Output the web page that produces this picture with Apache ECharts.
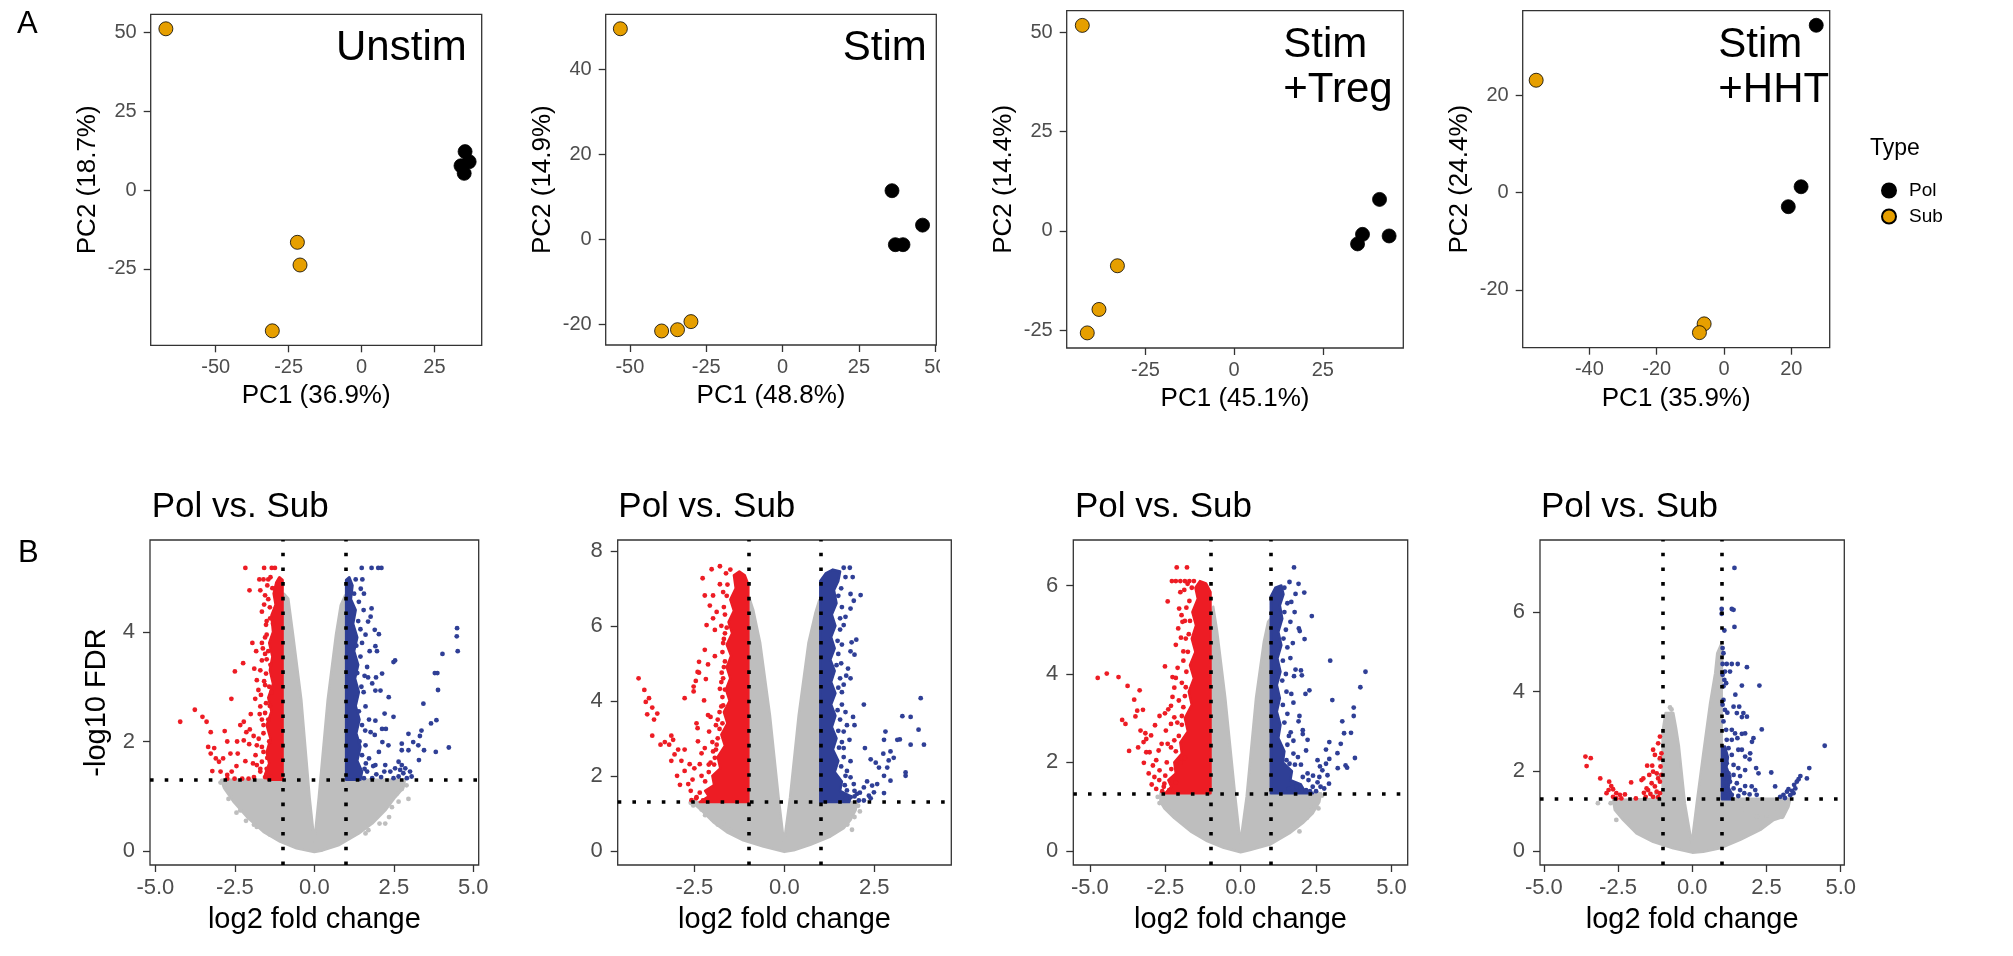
<!DOCTYPE html>
<html><head><meta charset="utf-8">
<script src="https://cdn.jsdelivr.net/npm/echarts@6/dist/echarts.min.js"></script>
<style>html,body{margin:0;padding:0;background:#fff}#c{width:2013px;height:956px}</style>
</head><body><div id="c"></div>
<script>
// ---------------- DATA ----------------
// PCA panels (PC1, PC2)
const pcaUnstimPol = [[35.5,12.2],[36.9,9.0],[34.1,7.7],[35.2,5.3]];
const pcaUnstimSub = [[-67.1,51.2],[-22.0,-16.6],[-21.1,-23.8],[-30.6,-44.7]];
const pcaStimPol = [[35.8,11.4],[45.8,3.3],[36.9,-1.3],[39.4,-1.3]];
const pcaStimSub = [[-53.1,49.5],[-39.6,-21.6],[-34.4,-21.3],[-30.0,-19.4]];
const pcaTregPol = [[41.0,7.9],[43.7,-1.3],[36.2,-0.9],[34.8,-3.3]];
const pcaTregSub = [[-42.8,51.7],[-32.9,-8.8],[-38.1,-19.8],[-41.4,-25.7]];
const pcaHHTPol = [[27.4,34.4],[22.9,1.2],[19.1,-2.9]];
const pcaHHTSub = [[-55.8,23.1],[-5.9,-27.0],[-7.3,-28.8]];

const pcaTitles = ['Unstim', 'Stim', 'Stim\n+Treg', 'Stim\n+HHT'];
const pc1Labels = ['PC1 (36.9%)', 'PC1 (48.8%)', 'PC1 (45.1%)', 'PC1 (35.9%)'];
const pc2Labels = ['PC2 (18.7%)', 'PC2 (14.9%)', 'PC2 (14.4%)', 'PC2 (24.4%)'];
const groupNames = ['Pol', 'Sub'];

// axis ranges and ticks
const xRanges = [[-72.3,41.2],[-57.9,50.3],[-47.2,47.7],[-59.8,31.4],[-5.17,5.17],[-4.63,4.64],[-5.55,5.54],[-5.13,5.12]];
const yRanges = [[-49.3,55.8],[-24.9,52.9],[-29.5,55.4],[-31.9,37.4],[-0.256,5.68],[-0.38,8.29],[-0.32,7.03],[-0.35,7.8]];
const xTicks = [[-50,-25,0,25],[-50,-25,0,25,50],[-25,0,25],[-40,-20,0,20],[-5,-2.5,0,2.5,5],[-2.5,0,2.5],[-5,-2.5,0,2.5,5],[-5,-2.5,0,2.5,5]];
const yTicks = [[-25,0,25,50],[-20,0,20,40],[-25,0,25,50],[-20,0,20],[0,2,4],[0,2,4,6,8],[0,2,4,6],[0,2,4,6]];

// Volcano thresholds
const fcCut = [-1, 1];
const fdrCut = 1.3;

// Volcano 1 (Unstim)
const v1GrayArea = [[0,-0.02],[-0.56,0.05],[-1.08,0.17],[-1.60,0.35],[-2.12,0.62],[-2.53,0.89],[-2.84,1.15],[-2.93,1.30],[-1.0,1.30],[-1.0,4.25],[-0.96,4.70],[-0.82,4.61],[-0.67,3.95],[-0.41,2.76],[-0.15,0.98],[0,0.17],[0.14,0.98],[0.42,2.76],[0.68,3.95],[0.83,4.49],[0.97,4.67],[1.0,4.55],[1.0,1.30],[2.85,1.30],[2.80,1.15],[2.54,0.98],[2.23,0.74],[1.82,0.50],[1.40,0.32],[0.78,0.11],[0.26,0.01]];
const v1GrayPts = [[2.96,0.95],[2.75,1.13],[2.23,0.50],[1.61,0.32],[2.44,0.80],[-2.82,1.21],[-2.33,0.74],[-1.81,0.44],[2.6,1.05],[-2.6,1.05],[-2.95,1.25],[-2.7,0.95],[-2.45,0.7],[-2.15,0.55],[2.9,1.2],[2.65,0.9],[2.35,0.62],[2.05,0.5],[1.7,0.38],[-1.4,0.3],[-1.9,0.48]];
const v1RedCore = [[-1.0,1.3],[-1.0,4.95],[-1.1,5.0],[-1.2,4.9],[-1.28,4.7],[-1.22,4.5],[-1.35,4.3],[-1.3,4.0],[-1.42,3.8],[-1.32,3.55],[-1.4,3.3],[-1.3,3.05],[-1.45,2.8],[-1.35,2.55],[-1.5,2.3],[-1.38,2.05],[-1.5,1.8],[-1.42,1.6],[-1.55,1.4],[-1.45,1.3]];
const v1BlueCore = [[1.0,1.3],[1.0,4.95],[1.1,5.0],[1.2,4.85],[1.15,4.6],[1.3,4.4],[1.22,4.15],[1.35,3.9],[1.25,3.65],[1.38,3.4],[1.28,3.15],[1.4,2.9],[1.3,2.65],[1.42,2.4],[1.32,2.15],[1.45,1.9],[1.35,1.65],[1.5,1.45],[1.45,1.3]];
const v1Red = [[-2.17,5.17],[-1.58,5.17],[-1.34,5.17],[-1.24,5.17],[-1.73,4.96],[-1.60,4.96],[-1.45,4.96],[-2.04,4.76],[-1.70,4.76],[-1.55,4.67],[-1.95,3.80],[-1.65,3.80],[-1.83,3.65],[-2.24,3.43],[-2.50,3.28],[-1.89,3.33],[-1.65,3.48],[-2.61,2.78],[-3.76,2.58],[-4.22,2.36],[-3.52,2.45],[-3.39,2.36],[-1.86,2.78],[-1.70,2.64],[-2.22,2.36],[-2.33,2.30],[-2.14,2.17],[-2.03,2.22],[-2.82,2.19],[-3.26,2.17],[-2.74,2.0],[-2.43,2.0],[-2.22,2.02],[-3.34,1.90],[-3.15,1.88],[-3.26,1.78],[-3.10,1.69],[-2.87,1.69],[-3.00,1.63],[-2.64,1.78],[-2.41,1.78],[-2.17,1.64],[-1.93,1.60],[-3.21,1.46],[-2.95,1.45],[-2.74,1.39],[-2.74,1.32],[-2.51,1.32],[-2.27,1.32],[-2.07,1.32],[-1.81,1.57],[-1.70,1.45],[-1.65,1.63],[-1.60,1.81],[-1.81,1.93],[-1.91,2.10],[-1.60,2.15],[-1.65,2.40],[-1.55,2.52],[-1.76,2.94],[-1.55,3.03],[-1.52,3.24],[-1.81,3.12],[-1.55,3.60],[-1.50,3.95],[-1.52,4.13],[-1.39,4.25],[-1.65,4.37],[-1.45,4.6],[-1.5,4.2],[-1.55,3.9],[-1.5,3.5],[-1.58,3.1],[-1.52,2.7],[-1.6,2.3],[-1.65,1.9],[-1.7,1.5],[-1.55,1.35],[-1.48,4.85],[-1.38,5.0],[-1.9,1.35],[-1.85,1.75],[-1.75,2.05],[-1.72,2.5],[-1.68,2.85],[-1.7,3.3],[-1.62,3.7],[-1.58,4.5],[-2.0,2.5],[-2.05,1.95],[-2.45,1.55],[-2.6,1.45],[-1.32,4.8],[-1.4,4.45],[-1.3,4.15],[-1.45,3.65],[-1.38,3.4],[-1.42,3.0],[-1.4,2.65],[-1.45,2.4],[-1.42,2.0],[-1.48,1.7],[-1.5,1.5],[-1.35,1.35],[-1.35,2.9]];
const v1Blue = [[1.49,5.17],[1.80,5.17],[2.01,5.17],[2.11,5.17],[1.30,4.96],[1.51,4.96],[1.56,4.70],[1.80,4.43],[1.77,4.28],[1.90,4.04],[2.03,3.96],[1.92,3.74],[1.97,3.65],[2.49,3.45],[2.54,3.48],[2.13,3.24],[1.94,3.17],[1.69,3.17],[1.92,2.93],[2.08,2.93],[2.34,2.81],[2.21,2.51],[2.49,2.45],[1.92,2.38],[2.13,2.23],[2.25,2.23],[1.90,2.12],[2.14,1.99],[2.33,1.93],[2.03,1.81],[1.92,1.57],[2.23,1.57],[2.39,1.45],[2.49,1.33],[2.75,1.96],[2.96,2.14],[3.11,1.99],[2.96,1.84],[2.75,1.84],[3.27,1.93],[3.32,2.10],[3.37,2.20],[3.45,1.84],[3.29,1.66],[3.43,2.69],[3.67,2.33],[3.84,2.39],[3.82,1.81],[4.23,1.89],[3.87,3.25],[3.79,3.25],[3.89,2.94],[4.03,3.60],[4.49,4.07],[4.48,3.92],[4.51,3.65],[2.65,1.63],[2.75,1.57],[2.86,1.51],[3.01,1.45],[2.80,1.42],[2.65,1.36],[2.91,1.33],[3.06,1.36],[2.54,1.51],[2.70,1.48],[1.69,4.19],[1.61,3.95],[1.74,3.65],[1.66,3.36],[1.82,3.06],[1.61,2.64],[1.72,2.40],[1.77,2.17],[1.61,1.93],[1.72,1.69],[1.66,1.45],[1.56,1.33],[1.82,1.33],[1.40,4.55],[1.46,4.79],[1.55,4.4],[1.5,3.8],[1.58,3.2],[1.55,2.9],[1.6,2.2],[1.62,1.6],[1.85,1.55],[1.95,1.4],[2.1,1.35],[2.2,1.45],[1.25,4.7],[1.38,4.2],[1.32,3.75],[1.45,3.55],[1.35,3.25],[1.48,3.0],[1.4,2.55],[1.5,2.3],[1.42,2.0],[1.5,1.75],[1.58,1.5],[1.3,2.8],[1.45,4.05]];

// Volcano 2 (Stim)
const v2GrayArea = [[0,-0.03],[-0.58,0.11],[-1.14,0.28],[-1.60,0.50],[-1.98,0.77],[-2.26,1.04],[-2.49,1.24],[-2.53,1.30],[-1.0,1.30],[-1.0,6.50],[-0.95,6.68],[-0.86,6.41],[-0.67,5.54],[-0.40,3.62],[-0.16,1.43],[-0.01,0.21],[0.16,1.43],[0.40,3.62],[0.67,5.54],[0.86,6.33],[0.97,6.68],[1.0,6.33],[1.0,1.30],[2.02,1.30],[1.98,1.08],[1.84,0.82],[1.65,0.60],[1.28,0.38],[0.72,0.16],[0.26,0.01]];
const v2GrayPts = [[1.88,0.56],[-2.53,1.21],[-1.51,0.57],[-1.70,0.74],[2.05,1.2],[-2.3,1.1],[-2.0,0.85],[-2.2,0.95],[-1.85,0.7],[1.95,0.9],[1.75,0.7],[2.1,1.05],[-2.6,1.28]];
const v2RedCore = [[-1.0,1.3],[-1.0,7.1],[-1.1,7.35],[-1.25,7.45],[-1.4,7.35],[-1.35,7.0],[-1.5,6.7],[-1.4,6.4],[-1.55,6.1],[-1.45,5.8],[-1.6,5.5],[-1.48,5.2],[-1.6,4.9],[-1.5,4.6],[-1.62,4.3],[-1.52,4.0],[-1.68,3.7],[-1.58,3.4],[-1.75,3.1],[-1.65,2.8],[-1.85,2.5],[-1.78,2.2],[-2.0,2.0],[-1.95,1.75],[-2.2,1.6],[-2.1,1.45],[-2.35,1.3]];
const v2BlueCore = [[1.0,1.3],[1.0,7.2],[1.15,7.4],[1.35,7.5],[1.55,7.45],[1.5,7.2],[1.38,6.95],[1.45,6.6],[1.32,6.3],[1.42,6.0],[1.3,5.7],[1.4,5.4],[1.28,5.1],[1.4,4.8],[1.3,4.5],[1.42,4.2],[1.3,3.9],[1.42,3.6],[1.32,3.3],[1.45,3.0],[1.35,2.7],[1.5,2.4],[1.4,2.1],[1.6,1.85],[1.55,1.6],[1.85,1.45],[1.8,1.3]];
const v2Red = [[-4.05,4.60],[-3.89,4.29],[-3.76,4.07],[-3.85,3.97],[-3.67,3.82],[-3.53,3.66],[-3.81,3.64],[-3.62,3.50],[-3.67,3.07],[-3.44,2.83],[-3.32,2.90],[-3.14,3.07],[-3.09,2.96],[-3.20,2.83],[-2.95,2.70],[-3.05,2.57],[-2.77,2.70],[-3.14,2.40],[-2.86,2.40],[-2.98,2.00],[-2.90,1.76],[-2.77,2.13],[-2.77,4.07],[-2.52,4.38],[-2.46,4.53],[-2.52,4.25],[-2.41,4.77],[-2.37,5.04],[-2.21,5.36],[-2.16,6.02],[-2.21,6.81],[-2.27,7.27],[-1.98,6.81],[-2.02,7.51],[-1.79,7.59],[-2.07,6.54],[-1.88,6.37],[-1.93,5.89],[-1.98,6.20],[-1.93,5.19],[-2.12,4.97],[-2.18,4.58],[-2.37,4.75],[-2.44,3.40],[-2.41,3.27],[-2.23,4.01],[-2.12,3.62],[-2.05,3.57],[-2.09,3.18],[-2.40,2.92],[-2.21,2.74],[-1.90,3.35],[-1.88,2.83],[-1.93,2.48],[-1.70,3.88],[-1.79,4.32],[-1.74,4.75],[-1.70,5.54],[-1.79,7.11],[-2.63,2.31],[-2.35,2.31],[-2.67,1.78],[-2.44,1.43],[-2.26,1.34],[-1.62,7.4],[-1.7,6.9],[-1.68,6.5],[-1.75,6.0],[-1.65,5.8],[-1.72,5.3],[-1.68,4.9],[-1.75,4.5],[-1.65,4.3],[-1.8,3.7],[-1.72,3.4],[-1.85,3.0],[-1.98,2.65],[-2.1,2.3],[-2.3,2.0],[-2.55,1.9],[-2.6,1.6],[-2.58,1.35],[-2.0,2.9],[-2.3,2.6],[-2.5,2.2],[-1.5,7.5],[-1.58,7.1],[-1.6,6.8],[-1.65,6.3],[-1.6,5.95],[-1.68,5.65],[-1.65,5.05],[-1.7,4.6],[-1.72,4.1],[-1.75,3.85],[-1.8,3.25],[-1.9,2.7],[-2.05,2.35],[-2.2,1.85],[-2.35,1.55],[-2.45,1.4],[-2.1,2.1],[-1.95,2.3],[-1.85,3.5]];
const v2Blue = [[2.12,6.82],[1.93,6.67],[1.84,6.46],[2.00,5.63],[1.87,5.56],[1.84,5.32],[1.95,5.23],[1.77,4.86],[1.72,4.67],[1.84,4.60],[1.65,4.43],[2.21,3.90],[1.91,3.57],[1.95,3.35],[1.74,3.35],[1.65,3.18],[1.81,2.96],[2.24,2.74],[3.28,3.59],[3.51,3.57],[3.79,4.07],[3.73,3.23],[3.51,2.83],[3.88,2.83],[3.21,2.97],[3.14,2.96],[2.81,3.18],[2.77,2.96],[2.75,2.59],[2.95,2.65],[3.04,2.48],[2.90,2.41],[2.40,2.44],[2.54,2.35],[2.63,2.22],[2.86,2.22],[2.77,2.00],[2.95,1.87],[3.37,2.09],[3.37,2.00],[2.58,1.78],[2.44,1.74],[2.30,1.85],[2.21,1.69],[2.49,1.56],[2.77,1.54],[2.35,1.47],[1.84,1.96],[1.93,1.78],[1.74,1.61],[2.02,1.52],[1.84,1.43],[2.07,1.34],[2.21,1.34],[1.74,2.13],[1.84,2.39],[1.65,2.74],[1.70,3.70],[1.60,4.23],[1.70,6.24],[1.65,6.02],[1.84,6.85],[1.58,7.0],[1.6,6.5],[1.55,5.9],[1.6,5.5],[1.58,5.0],[1.55,4.6],[1.6,3.9],[1.55,3.5],[1.6,2.9],[1.65,2.5],[1.7,2.0],[1.95,1.6],[2.4,1.4],[1.9,7.3],[1.82,7.55],[1.65,7.55],[1.7,7.3],[1.5,6.8],[1.55,6.2],[1.48,5.6],[1.5,5.25],[1.45,4.95],[1.5,4.35],[1.48,3.75],[1.5,3.2],[1.52,2.75],[1.58,2.25],[1.68,1.75],[1.95,1.45],[2.1,1.55],[1.72,1.4]];

// Volcano 3 (Stim + Treg)
const v3GrayArea = [[0,-0.03],[-0.56,0.07],[-1.11,0.22],[-1.66,0.44],[-2.20,0.74],[-2.53,0.96],[-2.66,1.11],[-2.66,1.30],[-1.0,1.30],[-1.0,5.33],[-0.91,5.52],[-0.78,4.96],[-0.51,3.46],[-0.18,1.23],[-0.01,0.18],[0.20,1.23],[0.51,3.46],[0.77,4.73],[0.91,5.18],[1.0,5.26],[1.0,1.30],[2.66,1.30],[2.61,1.11],[2.39,0.85],[2.06,0.63],[1.62,0.40],[0.97,0.14],[0.31,0.02]];
const v3GrayPts = [[2.58,0.96],[-2.69,1.08],[-1.98,0.67],[1.95,0.44],[2.3,1.0],[-2.4,0.95],[-2.75,1.22],[-2.25,0.85],[-1.8,0.6],[2.5,1.2],[2.2,0.75],[1.8,0.55],[2.7,1.25]];
const v3RedCore = [[-1.0,1.3],[-1.0,5.85],[-1.15,6.05],[-1.35,6.1],[-1.5,5.95],[-1.42,5.7],[-1.6,5.4],[-1.48,5.1],[-1.62,4.8],[-1.5,4.5],[-1.68,4.2],[-1.55,3.9],[-1.72,3.6],[-1.62,3.3],[-1.85,3.0],[-1.75,2.7],[-2.0,2.45],[-1.95,2.2],[-2.2,2.0],[-2.15,1.75],[-2.4,1.6],[-2.3,1.45],[-2.5,1.3]];
const v3BlueCore = [[1.0,1.3],[1.0,5.75],[1.15,5.95],[1.35,6.0],[1.42,5.8],[1.3,5.55],[1.38,5.25],[1.25,4.95],[1.35,4.65],[1.22,4.35],[1.32,4.05],[1.2,3.75],[1.3,3.45],[1.2,3.15],[1.32,2.85],[1.25,2.55],[1.45,2.25],[1.4,2.0],[1.7,1.8],[1.65,1.6],[2.0,1.5],[2.1,1.38],[2.4,1.3]];
const v3Red = [[-2.12,6.41],[-1.78,6.41],[-2.28,6.1],[-2.15,6.1],[-2.0,6.1],[-1.85,6.1],[-1.7,6.1],[-1.55,6.1],[-2.42,5.64],[-2.00,5.85],[-2.04,5.48],[-1.96,5.33],[-2.07,5.03],[-1.98,4.82],[-2.15,4.66],[-1.90,4.51],[-2.51,4.17],[-2.26,3.93],[-2.15,3.91],[-4.74,3.91],[-4.44,4.01],[-4.05,3.93],[-3.75,3.73],[-3.35,3.63],[-3.53,3.42],[-3.43,3.17],[-3.24,3.19],[-3.49,3.04],[-3.93,2.96],[-3.82,2.87],[-2.84,2.84],[-3.32,2.72],[-3.16,2.66],[-3.13,2.53],[-2.97,2.61],[-3.22,2.46],[-3.40,2.34],[-3.70,2.26],[-3.13,2.23],[-3.02,2.23],[-3.21,1.99],[-2.69,3.05],[-2.51,3.11],[-2.40,3.20],[-2.48,2.72],[-2.31,2.87],[-2.31,3.28],[-2.26,3.48],[-2.20,3.69],[-2.62,2.42],[-2.72,2.27],[-2.80,2.05],[-2.91,1.93],[-2.86,1.67],[-2.69,1.82],[-2.53,1.52],[-2.37,1.37],[-2.42,2.42],[-2.31,2.34],[-2.20,3.02],[-2.09,4.14],[-1.93,5.18],[-1.76,6.04],[-1.87,5.9],[-1.8,5.5],[-1.85,5.2],[-1.82,4.8],[-1.9,4.3],[-1.95,3.8],[-2.05,3.4],[-2.1,2.9],[-2.2,2.5],[-2.45,2.0],[-2.7,1.6],[-2.8,1.4],[-2.95,1.5],[-3.05,1.75],[-2.6,1.35],[-2.15,1.55],[-1.85,2.1],[-1.62,5.95],[-1.7,5.65],[-1.68,5.2],[-1.72,4.9],[-1.75,4.5],[-1.8,4.05],[-1.82,3.7],[-1.9,3.25],[-1.95,2.85],[-2.05,2.6],[-2.15,2.25],[-2.3,1.85],[-2.5,1.7],[-2.55,1.45],[-2.0,2.0],[-1.95,3.05],[-1.85,3.5]];
const v3Blue = [[1.77,6.41],[1.62,6.08],[1.92,6.04],[2.11,5.84],[1.82,5.81],[1.68,5.63],[1.79,5.40],[2.36,5.31],[1.65,5.18],[1.93,5.03],[1.96,4.97],[2.12,4.79],[1.73,4.70],[1.65,4.36],[2.97,4.30],[4.14,4.05],[3.97,3.70],[1.82,4.10],[2.00,4.08],[2.03,3.97],[1.77,3.95],[2.28,3.63],[2.15,3.55],[3.04,3.41],[1.68,3.55],[1.75,3.35],[3.75,3.24],[3.75,3.05],[3.37,2.93],[1.95,3.05],[1.92,2.93],[2.06,2.73],[2.22,2.51],[2.06,2.64],[1.66,2.68],[1.75,2.49],[2.94,2.46],[2.83,2.29],[3.21,2.21],[3.66,2.67],[3.43,2.66],[3.32,2.42],[3.79,2.10],[3.48,1.93],[3.53,1.88],[3.22,1.87],[2.94,2.08],[2.83,1.97],[2.63,1.91],[2.55,2.05],[2.71,1.82],[2.88,1.71],[2.61,1.67],[2.93,1.52],[2.77,1.41],[2.39,1.45],[2.06,1.67],[2.22,1.75],[2.17,1.37],[1.73,1.52],[1.62,1.97],[1.90,2.12],[2.17,2.27],[1.55,5.6],[1.5,5.0],[1.55,4.6],[1.5,4.0],[1.52,3.6],[1.55,3.1],[1.6,2.6],[1.75,2.2],[2.0,1.95],[2.4,1.7],[2.55,1.55],[2.5,1.35],[1.85,1.45],[2.0,1.35],[1.6,1.4],[1.45,5.95],[1.45,5.4],[1.42,4.8],[1.4,4.3],[1.38,3.85],[1.4,3.3],[1.45,2.9],[1.55,2.4],[1.52,2.05],[1.8,1.95],[2.25,1.6],[2.65,1.45],[2.3,1.35]];

// Volcano 4 (Stim + HHT)
const v4GrayArea = [[0,-0.04],[-0.64,0.07],[-1.32,0.23],[-1.88,0.44],[-2.33,0.78],[-2.61,1.03],[-2.67,1.28],[-1.0,1.31],[-1.0,3.0],[-0.9,3.46],[-0.64,3.46],[-0.55,3.1],[-0.45,2.62],[-0.25,1.20],[-0.02,0.19],[0.15,1.20],[0.37,2.45],[0.60,3.71],[0.77,4.46],[0.84,4.96],[0.96,5.17],[1.02,5.05],[0.99,4.46],[0.99,1.31],[3.30,1.31],[3.24,1.11],[3.07,0.86],[2.74,0.78],[2.29,0.53],[1.61,0.28],[0.93,0.07],[0.37,-0.02]];
const v4GrayPts = [[-3.18,1.20],[-2.56,0.78],[3.02,0.86],[2.74,1.03],[1.67,1.03],[2.17,0.86],[-1.2,1.45],[-1.15,1.9],[-1.1,2.3],[-2.75,1.2],[-2.4,0.9],[-2.1,0.75],[2.9,1.0],[3.1,1.2],[2.5,0.9],[-0.75,3.6],[-0.7,3.55]];
const v4BlueCore = [[1.0,1.3],[1.0,2.6],[1.1,2.62],[1.2,2.35],[1.15,2.1],[1.28,1.85],[1.22,1.6],[1.35,1.4],[1.3,1.3]];
const v4Red = [[-3.60,2.37],[-3.42,2.33],[-3.56,2.13],[-3.10,1.82],[-2.80,1.74],[-2.73,1.63],[-2.67,1.55],[-2.82,1.53],[-2.89,1.45],[-2.56,1.45],[-2.44,1.41],[-2.27,1.42],[-2.39,1.32],[-2.56,1.32],[-2.67,1.36],[-2.06,1.72],[-1.90,1.32],[-1.71,1.78],[-1.65,1.82],[-1.57,1.36],[-1.54,1.57],[-1.45,1.91],[-1.35,2.14],[-1.52,2.14],[-1.32,2.54],[-1.15,2.70],[-1.09,2.87],[-1.26,2.41],[-1.09,2.33],[-1.04,2.45],[-1.32,1.99],[-1.20,1.95],[-1.15,1.82],[-1.09,1.74],[-1.37,1.70],[-1.26,1.62],[-1.49,1.53],[-1.20,1.49],[-1.09,1.45],[-1.32,1.36],[-1.15,1.35],[-1.41,1.43],[-1.63,1.46],[-1.07,2.12],[-1.04,1.91]];
const v4Blue = [[1.42,7.10],[0.99,6.07],[1.33,6.07],[1.39,6.05],[0.99,5.95],[1.08,5.53],[1.42,5.62],[1.02,5.09],[1.02,4.69],[1.16,4.69],[1.33,4.69],[1.53,4.69],[1.84,4.61],[1.10,4.50],[1.27,4.50],[1.02,4.42],[1.08,4.29],[1.05,4.13],[1.14,4.21],[1.67,4.15],[2.26,4.15],[1.45,3.92],[1.05,3.79],[1.02,3.67],[1.10,3.54],[1.18,3.47],[1.39,3.62],[1.58,3.62],[1.72,3.46],[1.67,3.36],[1.84,3.37],[1.50,3.46],[2.34,3.05],[1.05,3.25],[1.14,3.04],[1.33,3.04],[1.44,2.95],[1.67,2.94],[1.78,2.95],[1.52,2.83],[1.33,2.79],[1.16,2.79],[2.06,2.83],[2.01,2.74],[1.05,2.58],[1.22,2.58],[1.55,2.54],[1.67,2.54],[1.95,2.45],[1.78,2.37],[1.93,2.30],[1.33,2.41],[1.05,2.35],[1.16,2.20],[1.39,2.16],[1.55,2.08],[1.78,2.03],[2.15,2.08],[2.23,1.95],[2.66,1.97],[1.05,2.03],[1.22,1.95],[1.39,1.91],[1.61,1.88],[1.05,1.82],[1.27,1.74],[1.50,1.70],[1.05,1.62],[1.16,1.53],[1.39,1.57],[1.61,1.53],[1.78,1.63],[2.00,1.62],[2.12,1.53],[1.93,1.42],[1.75,1.45],[1.55,1.38],[1.33,1.41],[1.10,1.36],[2.17,1.41],[2.79,1.62],[2.96,1.36],[3.07,1.41],[3.19,1.49],[3.24,1.55],[3.36,1.51],[3.43,1.66],[3.52,1.74],[3.58,1.80],[3.64,1.88],[3.47,1.57],[3.41,1.45],[3.86,1.82],[3.94,2.08],[4.46,2.64],[1.05,4.96],[3.3,1.4],[3.12,1.33]];

// ---------------- CHART ----------------
const FONT = '"Liberation Sans", Arial, Helvetica, sans-serif';
const RED = '#ED1C24', BLUE = '#2F3F96', GRAY = '#BEBEBE', ORANGE = '#E69F00';
const boxes = [[150.7,14.3,331,331],[605.7,14.3,330.6,330.7],[1066.7,10.7,336.6,337.3],[1522.7,10.7,307,337],
               [150,540,328.7,325],[617.7,540,333.6,325],[1073.3,540,334.4,325],[1540,540,304.3,325]];

const grids = boxes.map(b => ({left:b[0], top:b[1], width:b[2], height:b[3], show:true, borderColor:'#333', borderWidth:1.3, backgroundColor:'transparent'}));

function mkAxis(i, isX) {
  const top = i < 4;
  const r = isX ? xRanges[i] : yRanges[i];
  const t = isX ? xTicks[i] : yTicks[i];
  const fs = top ? 20 : 22;
  let name = '', gap = 0, nfs = top ? 26 : 29;
  if (top) { name = isX ? pc1Labels[i] : pc2Labels[i]; gap = isX ? 38 : 50; }
  else { if (isX) { name = 'log2 fold change'; gap = 40; } else if (i === 4) { name = '-log10 FDR'; gap = 39; } }
  return {
    type:'value', gridIndex:i, min:r[0], max:r[1],
    position: isX ? 'bottom' : 'left',
    axisLine:{show:false, onZero:false},
    axisTick:{show:true, length:7, inside:false, lineStyle:{color:'#333', width:1.3}, customValues:t},
    axisLabel:{show:true, customValues:t, color:'#4D4D4D', fontSize:fs, fontFamily:FONT, margin: isX ? 12 : (top?14:15),
      formatter: v => (!top && isX) ? v.toFixed(1) : String(v)},
    splitLine:{show:false},
    name:name, nameLocation:'middle', nameGap:gap,
    nameTextStyle:{fontSize:nfs, color:'#000', fontFamily:FONT}
  };
}
const xAxes = [], yAxes = [];
for (let i = 0; i < 8; i++) { xAxes.push(mkAxis(i, true)); yAxes.push(mkAxis(i, false)); }

const series = [];
const pcaPol = [pcaUnstimPol, pcaStimPol, pcaTregPol, pcaHHTPol];
const pcaSub = [pcaUnstimSub, pcaStimSub, pcaTregSub, pcaHHTSub];
for (let i = 0; i < 4; i++) {
  series.push({type:'scatter', name:groupNames[0], xAxisIndex:i, yAxisIndex:i, data:pcaPol[i], symbolSize:14,
    itemStyle:{color:'#000', borderColor:'#000', borderWidth:0.8, opacity:1}, z:3});
  series.push({type:'scatter', name:groupNames[1], xAxisIndex:i, yAxisIndex:i, data:pcaSub[i], symbolSize:14,
    itemStyle:{color:ORANGE, borderColor:'#000', borderWidth:0.8, opacity:1}, z:3});
}

function polySeries(gi, pts, color, z) {
  return {type:'custom', xAxisIndex:gi, yAxisIndex:gi, data:pts, clip:true, silent:true, z:z,
    renderItem: function(params, api) {
      if (params.dataIndex !== 0) return null;
      return {type:'polygon', shape:{points: pts.map(p => api.coord(p))}, style:{fill:color, stroke:color, lineWidth:2.5, lineJoin:'round'}};
    }};
}
function ptSeries(gi, pts, color, z, extra) {
  return Object.assign({type:'scatter', xAxisIndex:gi, yAxisIndex:gi, data:pts, symbolSize:4.8, silent:true,
    itemStyle:{color:color, opacity:1}, z:z}, extra || {});
}
const vol = [
  {gray:v1GrayArea, gp:v1GrayPts, rc:v1RedCore, bc:v1BlueCore, r:v1Red, b:v1Blue},
  {gray:v2GrayArea, gp:v2GrayPts, rc:v2RedCore, bc:v2BlueCore, r:v2Red, b:v2Blue},
  {gray:v3GrayArea, gp:v3GrayPts, rc:v3RedCore, bc:v3BlueCore, r:v3Red, b:v3Blue},
  {gray:v4GrayArea, gp:v4GrayPts, rc:null, bc:v4BlueCore, r:v4Red, b:v4Blue}
];
vol.forEach((v, k) => {
  const gi = 4 + k;
  series.push(polySeries(gi, v.gray, GRAY, 1));
  series.push(ptSeries(gi, v.gp, GRAY, 1));
  if (v.rc) series.push(polySeries(gi, v.rc, RED, 2));
  if (v.bc) series.push(polySeries(gi, v.bc, BLUE, 2));
  series.push(ptSeries(gi, v.r, RED, 2));
  series.push(ptSeries(gi, v.b, BLUE, 2, {
    markLine:{silent:true, symbol:'none', animation:false, label:{show:false}, z:10,
      lineStyle:{color:'#000', type:[3.6,11.1], width:3.6, cap:'butt'},
      emphasis:{disabled:true},
      data:[{xAxis:fcCut[0]},{xAxis:fcCut[1]},{yAxis:fdrCut}]}
  }));
});

function txt(x, y, s, fs, align, extra) {
  return Object.assign({type:'text', x:x, y:y, z:50, silent:true,
    style:{text:s, fontSize:fs, fontFamily:FONT, fill:'#000', align:align || 'left', verticalAlign:'middle'}}, extra || {});
}
const graphics = [
  txt(17, 24, 'A', 31), txt(18, 553, 'B', 31),
  txt(466.7, 48, pcaTitles[0], 42, 'right'),
  txt(926.7, 48, pcaTitles[1], 42, 'right'),
  txt(1283.3, 45, pcaTitles[2].split('\n')[0], 42), txt(1283.3, 90, pcaTitles[2].split('\n')[1], 42),
  txt(1718.3, 45, pcaTitles[3].split('\n')[0], 42), txt(1718.3, 90, pcaTitles[3].split('\n')[1], 42),
  txt(1870, 149, 'Type', 23),
  txt(151.7, 507.5, 'Pol vs. Sub', 35), txt(618.3, 507.5, 'Pol vs. Sub', 35),
  txt(1075, 507.5, 'Pol vs. Sub', 35), txt(1541, 507.5, 'Pol vs. Sub', 35),
  {type:'rect', z:60, silent:true, shape:{x:940, y:352, width:22, height:32}, style:{fill:'#fff'}}
];

const chart = echarts.init(document.getElementById('c'), null, {renderer:'canvas'});
chart.setOption({
  animation:false,
  backgroundColor:'#fff',
  textStyle:{fontFamily:FONT},
  grid:grids, xAxis:xAxes, yAxis:yAxes, series:series,
  legend:{data:[{name:'Pol', icon:'circle'},{name:'Sub', icon:'circle'}], orient:'vertical', left:1876, top:176,
    itemWidth:14, itemHeight:14, itemGap:7, selectedMode:false,
    textStyle:{fontSize:19, fontFamily:FONT, color:'#000', padding:[0,0,0,8]}},
  graphic:graphics
});
</script>
</body></html>
